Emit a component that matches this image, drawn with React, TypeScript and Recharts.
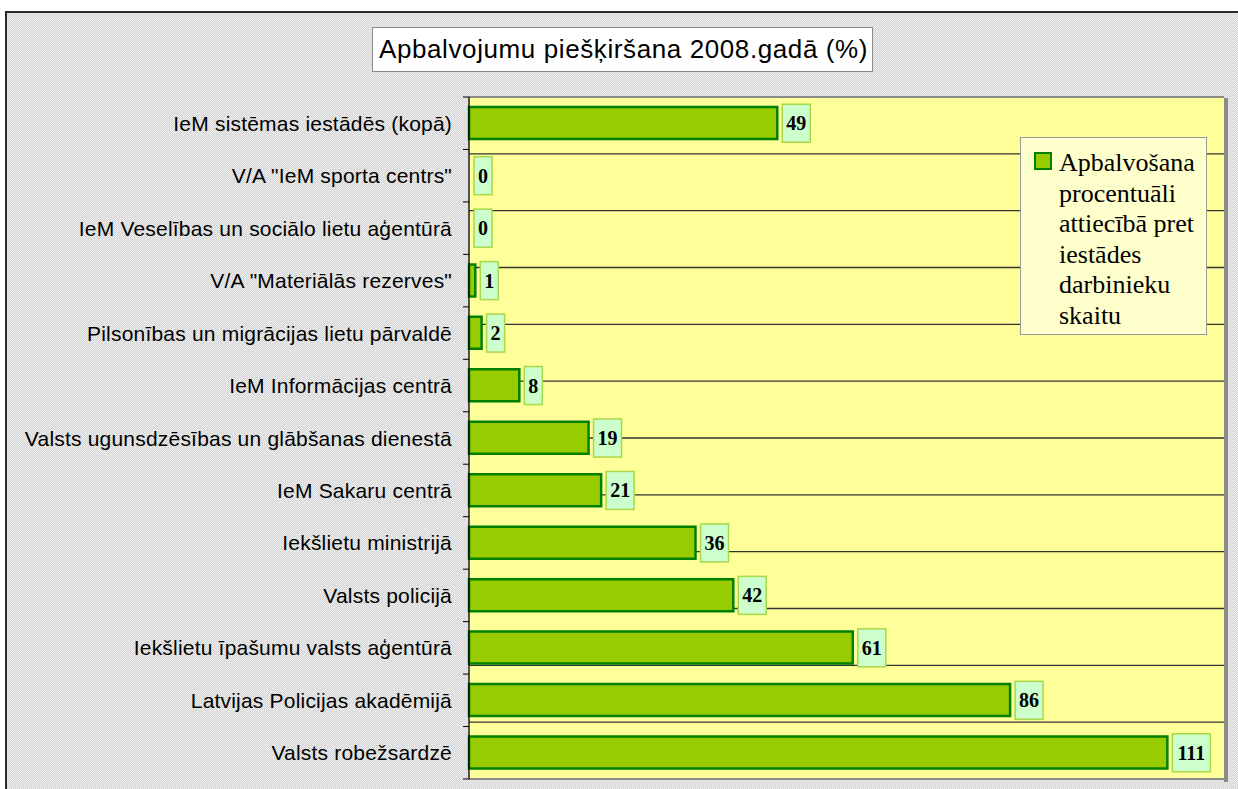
import React from 'react';
import { ComposedChart, Bar, Scatter, XAxis, YAxis, CartesianGrid } from 'recharts';

// categories top to bottom, as in the source chart
const categories = [
  'IeM sistēmas iestādēs (kopā)',
  'V/A "IeM sporta centrs"',
  'IeM Veselības un sociālo lietu aģentūrā',
  'V/A "Materiālās rezerves"',
  'Pilsonības un migrācijas lietu pārvaldē',
  'IeM Informācijas centrā',
  'Valsts ugunsdzēsības un glābšanas dienestā',
  'IeM Sakaru centrā',
  'Iekšlietu ministrijā',
  'Valsts policijā',
  'Iekšlietu īpašumu valsts aģentūrā',
  'Latvijas Policijas akadēmijā',
  'Valsts robežsardzē',
];
const values = [49, 0, 0, 1, 2, 8, 19, 21, 36, 42, 61, 86, 111];
const seriesName = 'Apbalvošana procentuāli attiecībā pret iestādes darbinieku skaitu';
const title = 'Apbalvojumu piešķiršana 2008.gadā (%)';
const xDomain: [number, number] = [0, 120];

const data = categories.map((name, i) => ({ name, value: values[i] }));
// band boundaries for the horizontal grid
const gridTicks = Array.from({ length: categories.length + 1 }, (_, i) => i);

const W = 1238;
const H = 789;
const AXIS_W = 469;
const M = { top: 97, right: 14, bottom: 10, left: 0 };
const TICK_SIZE = 6;
const TICK_MARGIN = 11;

const SANS = '"Liberation Sans", Arial, sans-serif';
const SERIF = '"Liberation Serif", "Times New Roman", serif';

const BAR_FILL = '#99cc00';
const BAR_STROKE = '#008000';

const CategoryTick = (props: any) => {
  const { x, y, payload, index } = props;
  const half = payload.offset ?? 26;
  const ax = x + TICK_SIZE + TICK_MARGIN;
  const last = index === categories.length - 1;
  return (
    <g>
      <line x1={ax - TICK_SIZE} x2={ax} y1={y - half} y2={y - half} stroke="#000" />
      {last && <line x1={ax - TICK_SIZE} x2={ax} y1={y + half} y2={y + half} stroke="#000" />}
      <text
        x={x}
        y={y}
        dy={7.5}
        textAnchor="end"
        fontFamily={SANS}
        fontSize={21}
        letterSpacing={0.2}
        fill="#000"
      >
        {payload.value}
      </text>
    </g>
  );
};

// value box drawn just right of the bar end (cx = scale(value))
const ValueLabel = (props: any) => {
  const { cx, cy, payload } = props;
  const txt = String(payload.value);
  const bw = txt.length * 10 + 8;
  const bh = 38;
  const bx = cx + 5;
  return (
    <g>
      <rect x={bx} y={cy - bh / 2} width={bw} height={bh} fill="#ccffcc" stroke="#a8d84a" strokeWidth={1.5} />
      <text x={bx + bw / 2} y={cy} dy={7} textAnchor="middle" fontFamily={SERIF} fontWeight="bold" fontSize={20} fill="#000">
        {txt}
      </text>
    </g>
  );
};

const GridLine = (props: any) => {
  const { x1, x2, y1, y2, index } = props;
  const edge = index === 0 || index === gridTicks.length - 1;
  return (
    <line
      key={`g-${index}`}
      x1={x1}
      x2={x2}
      y1={y1}
      y2={y2}
      stroke={edge ? '#8a8a8a' : '#333'}
      strokeWidth={edge ? 2 : 1.4}
    />
  );
};

const LegendBox = () => (
  <div
    style={{
      position: 'absolute',
      left: 1020,
      top: 137,
      boxSizing: 'border-box',
      width: 187,
      height: 198,
      background: '#ffffcc',
      border: '1.5px solid #9a9a9a',
      padding: '10px 4px 0 13px',
      display: 'flex',
      alignItems: 'flex-start',
    }}
  >
    <span
      style={{
        display: 'inline-block',
        boxSizing: 'border-box',
        width: 18,
        height: 18,
        background: BAR_FILL,
        border: `2px solid ${BAR_STROKE}`,
        marginTop: 4,
        marginRight: 7,
        flexShrink: 0,
      }}
    />
    <span style={{ fontFamily: SERIF, fontSize: 26, lineHeight: '30.6px', color: '#000', textAlign: 'left' }}>
      {seriesName}
    </span>
  </div>
);

export default function App() {
  const plotRight = W - M.right;
  const plotBottom = H - M.bottom;
  return (
    <div style={{ position: 'absolute', left: 0, top: 0, width: W, height: H, background: '#fff', overflow: 'hidden' }}>
      <div
        style={{
          position: 'absolute',
          left: 5,
          top: 11,
          width: W,
          height: H,
          borderTop: '2px solid #2a2a2a',
          borderLeft: '2px solid #2a2a2a',
          background: 'repeating-conic-gradient(#d4d4d4 0% 25%, #eeeeee 0% 50%) 0 0 / 2px 2px',
        }}
      />
      <div
        style={{
          position: 'absolute',
          left: 372,
          top: 27,
          width: 501,
          height: 45,
          boxSizing: 'border-box',
          background: '#fff',
          border: '1px solid #8a8a8a',
          fontFamily: SANS,
          fontSize: 26,
          letterSpacing: 0.6,
          lineHeight: '43px',
          paddingLeft: 6,
          color: '#000',
          whiteSpace: 'nowrap',
        }}
      >
        {title}
      </div>
      <div style={{ position: 'absolute', left: plotRight, top: M.top + 1, width: 4, height: plotBottom - M.top + 2, background: '#8a8a8a' }} />
      <ComposedChart
        width={W}
        height={H}
        data={data}
        layout="vertical"
        margin={M}
        style={{ position: 'absolute', left: 0, top: 0 }}
      >
        <CartesianGrid yAxisId="grid" vertical={false} horizontal={GridLine} fill="#ffff99" fillOpacity={1} />
        <XAxis type="number" dataKey="value" domain={xDomain} hide />
        <YAxis
          type="category"
          dataKey="name"
          width={AXIS_W}
          interval={0}
          tickSize={TICK_SIZE}
          tickMargin={TICK_MARGIN}
          tickLine={false}
          tick={<CategoryTick />}
          axisLine={{ stroke: '#000', strokeWidth: 1.3 }}
        />
        <YAxis yAxisId="grid" type="number" domain={[0, categories.length]} ticks={gridTicks} hide />
        <Bar
          dataKey="value"
          name={seriesName}
          barSize={32}
          fill={BAR_FILL}
          stroke={BAR_STROKE}
          strokeWidth={2.5}
          isAnimationActive={false}
        />
        <Scatter dataKey="value" shape={<ValueLabel />} isAnimationActive={false} />
      </ComposedChart>
      <LegendBox />
    </div>
  );
}
